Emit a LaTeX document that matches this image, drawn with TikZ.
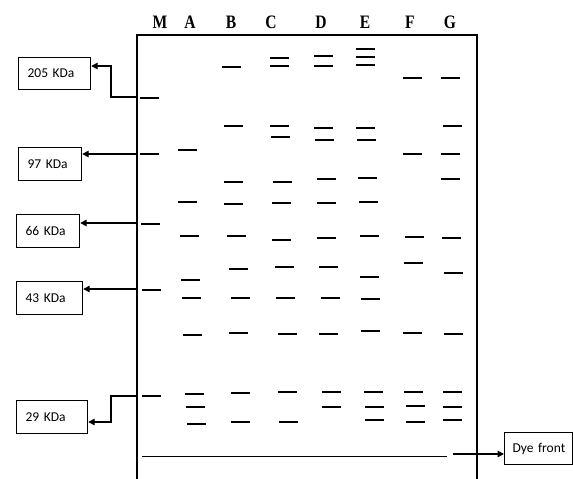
\documentclass[tikz,border=0pt]{standalone}
\usepackage{fontspec}
\usetikzlibrary{arrows.meta}
\newfontfamily\boxfont{Carlito}
\newfontfamily\lanefont[FakeStretch=0.82]{Liberation Serif}

\tikzset{
  kdabox/.style={draw,line width=1.2pt,anchor=north west,inner xsep=9pt,
    inner ysep=0pt,align=left,font=\boxfont\fontsize{13.5}{15}\selectfont},
  lanelabel/.style={font=\lanefont\bfseries\fontsize{19}{20}\selectfont},
  marker/.style={line width=1.4pt,-{Triangle[length=6.5pt,width=6.5pt]}},
  band/.style={line cap=butt},
}

\begin{document}
\begin{tikzpicture}[x=1pt,y=-1pt]
  \useasboundingbox (0,0) rectangle (573,479);
  % gel outline
  \draw[line width=1.1pt] (137,479) -- (137,35) -- (477,35) -- (477,479);
  % lane labels
  \foreach \l/\x in {M/160,A/190,B/231,C/271,D/321,E/365,F/410,G/450}
    \node[lanelabel] (lane\l) at (\x,22) {\l};
  % bands: start x / y / line width
  \foreach \x/\y/\w in {140/98/1.2,140/154/1.2,141/224/1.8,142/290/1.8,142/396/1.8,
      178/150/1.1,178/202/1.1,180/236/1.9,181/280/1.1,182/298/1.9,183/335/1.9,
      185/394/1.1,186/407/1.1,187/424/1.1,
      222/67/1.9,224/126/1.1,224/182/1.9,224/204/1.1,227/236/1.9,229/269/2.1,
      231/298/1.9,229/333/2.1,231/393/2.1,231/422/1.1,
      270/58/1.9,270/66/1.9,270/126/1.1,271/137/2.1,273/182/1.9,272/203/1.9,
      272/240/1.4,275/267/1.9,276/298/1.9,278/334/1.2,278/392/1.2,279/422/2.1,
      314/56/1.6,314/66/1.2,314/128/1.1,315/140/1.1,317/179/1.9,317/203/1.9,
      317/238/1.9,319/267/1.9,321/298/1.9,319/334/1.2,322/392/1.2,322/407/1.2,
      356/49/1.9,356/57/1.9,356/65/1.9,356/128/1.1,357/140/1.1,358/178/1.9,
      359/202/1.2,360/236/1.9,360/277/1.9,361/299/1.1,361/331/2.1,364/392/1.2,
      365/407/1.2,365/420/2.1,
      403/78/1.1,403/154/1.1,405/237/1.1,404/263/1.9,403/333/2.1,404/392/1.2,
      406/406/2.1,406/422/1.2,
      441/78/1.1,443/126/1.1,441/154/1.9,441/179/1.9,442/238/1.9,444/273/1.1,
      444/334/1.9,443/392/1.2,443/407/1.2,443/420/2.1}
    \draw[band,line width=\w pt] (\x,\y) -- ++(18.5,0);
  % dye front
  \draw[line width=1pt] (142,456) -- (447,456);
  % size markers
  \node[kdabox,text width=54pt,minimum height=32pt] (k205) at (18,57) {205 KDa};
  \node[kdabox,text width=45pt,minimum height=33pt] (k97) at (18,147) {97 KDa};
  \node[kdabox,text width=45pt,minimum height=33pt] (k66) at (16,214) {66 KDa};
  \node[kdabox,text width=48pt,minimum height=33pt] (k43) at (16,281) {43 KDa};
  \node[kdabox,text width=53pt,minimum height=33pt] (k29) at (16,400) {29 KDa};
  \node[kdabox,inner xsep=8pt,text width=52pt,minimum height=32pt] (dye) at (504,432) {\mbox{Dye front}};
  \coordinate (m205) at (137,97);
  \coordinate (t205) at (111,66);
  \coordinate (m97) at (137,154);
  \coordinate (m66) at (137,223);
  \coordinate (m43) at (137,289);
  \coordinate (m29) at (137,396);
  \coordinate (t29) at (111,422);
  \coordinate (dyeend) at (453,454);
  \draw[marker] (m205) -| (t205) -- (k205.east |- t205);
  \draw[marker] (m97) -- (k97.east |- m97);
  \draw[marker] (m66) -- (k66.east |- m66);
  \draw[marker] (m43) -- (k43.east |- m43);
  \draw[marker] (m29) -| (t29) -- (k29.east |- t29);
  \draw[marker] (dyeend) -- (dye.west |- dyeend);
\end{tikzpicture}
\end{document}
